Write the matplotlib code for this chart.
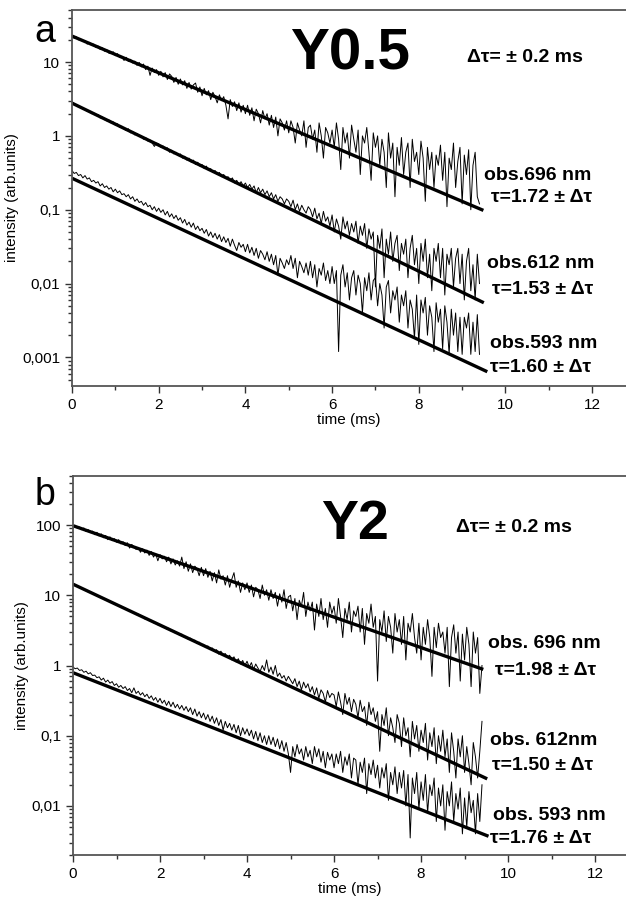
import numpy as np
import matplotlib
matplotlib.use("Agg")
import matplotlib.pyplot as plt
from matplotlib.ticker import LogLocator, FuncFormatter, MultipleLocator, NullFormatter

plt.rcParams['font.family'] = ['Liberation Sans', 'DejaVu Sans']

# time axis (ms), one sample every 0.05 ms
time_ms = np.round(np.arange(189) * 0.05, 2)

# ---- panel a : Y0.5 ----
a_696 = [23, 21, 22, 20, 20.5, 19, 19.5, 17.5, 18.5, 16.8,
         17.5, 15.8, 16.5, 14.8, 15.6, 14.0, 14.8, 13.2, 13.0, 13.8,
         12.2, 13.0, 11.5, 11.9, 10.5, 11.6, 10.2, 10.9, 9.7, 10.3,
         9.0, 9.9, 8.6, 9.4, 7.9, 8.8, 6.6, 8.3, 7.2, 7.9,
         6.6, 7.5, 6.3, 7.2, 5.8, 6.9, 6.4, 5.3, 6.2, 5.0,
         5.9, 4.9, 5.6, 4.4, 5.3, 4.3, 4.9, 5.2, 3.9, 4.6,
         3.5, 4.4, 3.6, 4.1, 3.1, 3.9, 3.4, 2.8, 3.6, 3.0,
         3.4, 2.6, 1.7, 3.1, 2.5, 2.9, 2.2, 2.8, 2.1, 2.6,
         2.0, 2.6, 1.9, 2.4, 1.6, 2.3, 2.0, 1.5, 2.2, 1.7,
         2.0, 1.4, 1.9, 1.3, 1.8, 1.0, 1.7, 1.5, 1.2, 1.6,
         1.1, 1.6, 1.3, 0.8, 1.5, 1.2, 1.0, 1.6, 0.7, 1.3,
         1.4, 0.9, 1.2, 0.6, 1.5, 1.0, 0.5, 1.3, 1.1, 0.8,
         1.2, 0.7, 1.5, 0.9, 0.35, 1.3, 0.8, 1.1, 0.5, 1.4,
         0.9, 0.6, 1.2, 0.3, 1.0, 0.8, 1.3, 0.6, 0.25, 1.1,
         0.7, 1.0, 0.4, 0.9, 0.6, 0.2, 1.1, 0.5, 0.8, 0.15,
         0.7, 0.4, 0.95, 0.3, 0.6, 0.8, 0.2, 0.9, 0.45, 0.6,
         0.3, 0.85, 0.5, 0.13, 0.7, 0.35, 0.6, 0.2, 0.55, 0.4,
         0.75, 0.25, 0.6, 0.11, 0.5, 0.35, 0.8, 0.2, 0.45, 0.7,
         0.12, 0.55, 0.3, 0.65, 0.1, 0.4, 0.6, 0.15, 0.12]
a_612 = [2.9, 2.7, 2.65, 2.45, 2.5, 2.3, 2.35, 2.15, 2.2, 2.0,
         2.05, 1.9, 1.95, 1.75, 1.8, 1.66, 1.6, 1.65, 1.5, 1.55,
         1.4, 1.46, 1.3, 1.35, 1.24, 1.18, 1.25, 1.1, 1.15, 1.03,
         1.08, 0.98, 1.0, 0.9, 0.95, 0.85, 0.88, 0.8, 0.72, 0.8,
         0.78, 0.7, 0.73, 0.66, 0.69, 0.6, 0.64, 0.57, 0.6, 0.54,
         0.57, 0.5, 0.53, 0.47, 0.5, 0.44, 0.47, 0.41, 0.44, 0.39,
         0.41, 0.36, 0.39, 0.34, 0.36, 0.32, 0.34, 0.3, 0.32, 0.28,
         0.3, 0.27, 0.28, 0.25, 0.27, 0.23, 0.25, 0.22, 0.24, 0.21,
         0.23, 0.2, 0.22, 0.19, 0.21, 0.17, 0.2, 0.17, 0.19, 0.16,
         0.18, 0.15, 0.17, 0.14, 0.16, 0.13, 0.15, 0.14, 0.12, 0.14,
         0.13, 0.11, 0.135, 0.1, 0.12, 0.095, 0.115, 0.1, 0.09, 0.11,
         0.1, 0.08, 0.105, 0.075, 0.09, 0.065, 0.095, 0.07, 0.08, 0.06,
         0.085, 0.05, 0.075, 0.06, 0.04, 0.08, 0.055, 0.07, 0.045, 0.065,
         0.05, 0.07, 0.035, 0.06, 0.045, 0.065, 0.03, 0.055, 0.04, 0.05,
         0.009, 0.045, 0.03, 0.055, 0.012, 0.04, 0.025, 0.05, 0.02, 0.035,
         0.045, 0.015, 0.035, 0.025, 0.04, 0.012, 0.03, 0.045, 0.018, 0.03,
         0.01, 0.035, 0.02, 0.04, 0.012, 0.025, 0.008, 0.03, 0.02, 0.035,
         0.012, 0.03, 0.007, 0.025, 0.018, 0.03, 0.009, 0.022, 0.03, 0.01,
         0.025, 0.006, 0.02, 0.03, 0.008, 0.018, 0.006, 0.025, 0.01]
a_593 = [0.34, 0.31, 0.32, 0.29, 0.3, 0.27, 0.29, 0.26, 0.27, 0.24,
         0.25, 0.23, 0.24, 0.21, 0.225, 0.2, 0.21, 0.19, 0.2, 0.175,
         0.19, 0.17, 0.18, 0.16, 0.165, 0.15, 0.16, 0.14, 0.15, 0.13,
         0.14, 0.125, 0.13, 0.115, 0.125, 0.11, 0.115, 0.1, 0.11, 0.095,
         0.105, 0.092, 0.1, 0.085, 0.095, 0.08, 0.088, 0.076, 0.084, 0.072,
         0.078, 0.066, 0.074, 0.062, 0.068, 0.058, 0.066, 0.054, 0.06, 0.052,
         0.056, 0.048, 0.054, 0.044, 0.05, 0.042, 0.048, 0.04, 0.046, 0.037,
         0.043, 0.036, 0.041, 0.032, 0.04, 0.033, 0.028, 0.036, 0.031, 0.034,
         0.027, 0.034, 0.026, 0.031, 0.024, 0.03, 0.022, 0.028, 0.025, 0.021,
         0.027, 0.02, 0.025, 0.018, 0.024, 0.013, 0.022, 0.019, 0.016, 0.021,
         0.018, 0.024, 0.016, 0.022, 0.012, 0.02, 0.017, 0.014, 0.019, 0.013,
         0.02, 0.012, 0.018, 0.009, 0.016, 0.013, 0.019, 0.011, 0.015, 0.01,
         0.017, 0.01, 0.015, 0.0012, 0.013, 0.018, 0.009, 0.014, 0.006, 0.012,
         0.015, 0.007, 0.013, 0.01, 0.004, 0.012, 0.008, 0.014, 0.006, 0.011,
         0.012, 0.005, 0.01, 0.007, 0.0025, 0.009, 0.011, 0.004, 0.008, 0.006,
         0.009, 0.003, 0.007, 0.005, 0.008, 0.0025, 0.006, 0.0045, 0.0018, 0.007,
         0.0015, 0.006, 0.004, 0.0065, 0.002, 0.005, 0.0035, 0.0012, 0.0055, 0.003,
         0.0045, 0.0013, 0.005, 0.003, 0.0011, 0.0045, 0.002, 0.004, 0.0012, 0.0035,
         0.0011, 0.0035, 0.0025, 0.004, 0.0011, 0.003, 0.0012, 0.0038, 0.0011]
# fitted lines: (start time, start value, end time, end value)
a_fits = [(0, 22.5, 9.49, 0.098), (0, 2.78, 9.5, 0.0055), (0, 0.267, 9.58, 0.00064)]
a_labels = [("obs.696 nm", "τ=1.72 ± Δτ"), ("obs.612 nm", "τ=1.53 ± Δτ"), ("obs.593 nm", "τ=1.60 ± Δτ")]

# ---- panel b : Y2 ----
b_696 = [95, 99, 90, 94, 86, 91, 81, 86, 78, 82,
         73, 79, 70, 75, 66, 71, 62, 68, 60, 64,
         57, 62, 54, 58, 51, 56, 47, 53, 49, 45,
         48, 41, 46, 40, 44, 37, 42, 35, 39, 31,
         38, 33, 36, 30, 35, 28, 33, 27, 31, 26,
         35, 24, 30, 22, 28, 21, 26, 24, 19, 25,
         19, 24, 18, 22, 16, 21, 15, 23, 17, 19,
         14, 19, 13, 17, 21, 13, 16, 11, 15, 12,
         15, 11, 14, 9.5, 13, 12, 9, 14, 10, 12,
         8.5, 12, 9, 11, 7, 10.5, 8, 12, 6.5, 9.5,
         10, 6, 9, 4.5, 8.5, 7, 11, 5, 8, 6,
         8, 3.2, 7.5, 5, 9, 4.5, 6.5, 3.5, 8, 5.5,
         7, 4, 9, 5, 2.5, 6.5, 4.5, 8, 3, 6,
         5, 7, 3, 6.5, 2, 5.5, 4, 7.5, 3.5, 5,
         0.6, 4.5, 3, 6, 2.2, 5, 3.5, 1.5, 5.5, 3,
         4.5, 2, 5, 1.2, 4, 3, 5.5, 2.5, 1.5, 4,
         1.2, 3.5, 2, 4.5, 2.5, 0.7, 3.5, 1.8, 4, 2.5,
         3, 1.5, 3.5, 0.5, 2.5, 3.8, 1.5, 3, 0.6, 2.8,
         1.2, 3.5, 2, 0.5, 3, 1.5, 2.5, 0.4, 1.0]
b_612 = [14.6, 13.8, 13.6, 12.8, 12.7, 12.0, 11.9, 11.2, 11.1, 10.5,
         10.4, 9.8, 9.7, 9.2, 9.1, 8.5, 8.5, 8.0, 7.9, 7.5,
         7.5, 7.0, 7.0, 6.5, 6.6, 6.1, 6.1, 5.7, 5.7, 5.3,
         5.4, 5.0, 5.0, 4.6, 4.7, 4.35, 4.4, 4.05, 4.1, 3.8,
         3.85, 3.55, 3.6, 3.3, 3.4, 3.1, 3.15, 2.9, 2.95, 2.7,
         2.8, 2.55, 2.6, 2.35, 2.45, 2.2, 2.3, 2.05, 2.15, 1.95,
         2.0, 1.8, 1.9, 1.7, 1.78, 1.58, 1.68, 1.45, 1.6, 1.4,
         1.48, 1.3, 1.4, 1.2, 1.33, 1.12, 1.25, 1.05, 1.18, 1.0,
         1.15, 0.95, 1.1, 0.88, 1.05, 0.92, 0.82, 1.0, 0.85, 1.2,
         0.8, 0.95, 0.75, 1.0, 0.7, 0.78, 0.66, 0.72, 0.6, 0.7,
         0.62, 0.55, 0.65, 0.5, 0.6, 0.45, 0.58, 0.48, 0.55, 0.42,
         0.5, 0.38, 0.48, 0.34, 0.45, 0.4, 0.3, 0.44, 0.35, 0.4,
         0.38, 0.26, 0.42, 0.3, 0.2, 0.4, 0.28, 0.35, 0.22, 0.33,
         0.28, 0.18, 0.32, 0.22, 0.26, 0.14, 0.3, 0.2, 0.25, 0.16,
         0.22, 0.06, 0.2, 0.14, 0.25, 0.1, 0.18, 0.13, 0.08, 0.2,
         0.15, 0.07, 0.18, 0.1, 0.13, 0.05, 0.16, 0.09, 0.14, 0.06,
         0.12, 0.08, 0.15, 0.045, 0.11, 0.07, 0.13, 0.04, 0.1, 0.06,
         0.12, 0.05, 0.09, 0.03, 0.11, 0.06, 0.025, 0.09, 0.05, 0.1,
         0.03, 0.07, 0.04, 0.02, 0.08, 0.05, 0.025, 0.06, 0.16]
b_593 = [0.95, 0.9, 0.92, 0.85, 0.87, 0.8, 0.83, 0.76, 0.79, 0.72,
         0.73, 0.67, 0.69, 0.62, 0.66, 0.58, 0.62, 0.56, 0.59, 0.52,
         0.55, 0.49, 0.52, 0.47, 0.5, 0.44, 0.47, 0.41, 0.48, 0.4,
         0.43, 0.38, 0.41, 0.36, 0.39, 0.34, 0.37, 0.32, 0.35, 0.3,
         0.34, 0.29, 0.32, 0.27, 0.31, 0.26, 0.3, 0.25, 0.28, 0.24,
         0.27, 0.23, 0.26, 0.22, 0.25, 0.2, 0.24, 0.19, 0.22, 0.18,
         0.21, 0.17, 0.2, 0.16, 0.19, 0.15, 0.18, 0.14, 0.17, 0.12,
         0.16, 0.13, 0.15, 0.12, 0.145, 0.11, 0.14, 0.1, 0.13, 0.105,
         0.125, 0.1, 0.12, 0.09, 0.115, 0.085, 0.11, 0.08, 0.1, 0.075,
         0.1, 0.075, 0.095, 0.07, 0.09, 0.065, 0.085, 0.06, 0.08, 0.055,
         0.03, 0.07, 0.05, 0.075, 0.055, 0.065, 0.045, 0.07, 0.05, 0.062,
         0.04, 0.07, 0.05, 0.065, 0.042, 0.06, 0.035, 0.058, 0.045, 0.055,
         0.035, 0.055, 0.04, 0.06, 0.03, 0.05, 0.038, 0.055, 0.025, 0.048,
         0.045, 0.02, 0.042, 0.03, 0.048, 0.015, 0.04, 0.028, 0.045, 0.025,
         0.038, 0.018, 0.035, 0.025, 0.04, 0.012, 0.03, 0.02, 0.036, 0.015,
         0.03, 0.018, 0.032, 0.01, 0.028, 0.0035, 0.025, 0.015, 0.03, 0.009,
         0.022, 0.012, 0.028, 0.008, 0.02, 0.014, 0.025, 0.006, 0.018, 0.01,
         0.02, 0.0045, 0.016, 0.01, 0.022, 0.006, 0.015, 0.009, 0.018, 0.004,
         0.013, 0.005, 0.016, 0.008, 0.012, 0.004, 0.015, 0.006, 0.02]
b_fits = [(0, 98, 9.43, 0.88), (0, 14.4, 9.52, 0.0243), (0, 0.79, 9.55, 0.0037)]
b_labels = [("obs. 696 nm", "τ=1.98 ± Δτ"), ("obs. 612nm", "τ=1.50 ± Δτ"), ("obs. 593 nm", "τ=1.76 ± Δτ")]


def comma_fmt(v, pos):
    return ("%g" % v).replace(".", ",")


def setup_axes(ax, ylim, xmax):
    ax.set_yscale("log")
    ax.set_ylim(*ylim)
    ax.set_xlim(0, xmax)
    ax.xaxis.set_major_locator(MultipleLocator(2))
    ax.xaxis.set_minor_locator(MultipleLocator(1))
    ax.yaxis.set_major_locator(LogLocator(base=10))
    ax.yaxis.set_minor_locator(LogLocator(base=10, subs=np.arange(2, 10)))
    ax.yaxis.set_major_formatter(FuncFormatter(comma_fmt))
    ax.yaxis.set_minor_formatter(NullFormatter())
    for s in ["left", "bottom", "top"]:
        ax.spines[s].set_color("#555555")
        ax.spines[s].set_linewidth(1.3)
    ax.spines["right"].set_visible(False)
    ax.tick_params(which="both", direction="out", color="#333333", labelsize=11, width=1)
    ax.tick_params(which="major", length=5)
    ax.tick_params(which="minor", length=3)
    ax.set_xlabel("time (ms)", fontsize=11, labelpad=1)
    ax.set_ylabel("intensity (arb.units)", fontsize=11, labelpad=2)


fig = plt.figure(figsize=(6.26, 8.97), dpi=100)
ax_a = fig.add_axes([72 / 626, 1 - 386 / 897, 554 / 626, 376 / 897])
ax_b = fig.add_axes([73 / 626, 1 - 855 / 897, 553 / 626, 379 / 897])

setup_axes(ax_a, (4.1e-4, 50.7), 12.78)
setup_axes(ax_b, (2.0e-3, 500), 12.71)

for ax, curves, fits in [(ax_a, [a_696, a_612, a_593], a_fits),
                         (ax_b, [b_696, b_612, b_593], b_fits)]:
    for c in curves:
        ax.plot(time_ms[:len(c)], c, color="black", lw=0.7)
    for t0, y0, t1, y1 in fits:
        ax.plot([t0, t1], [y0, y1], color="black", lw=2.4, solid_capstyle="butt")

# panel letters and titles (figure pixel coords)
def ftext(x, y, s, **kw):
    fig.text(x / 626, 1 - y / 897, s, **kw)

ftext(45, 32, "a", fontsize=27, ha="center", va="center")
ftext(350, 55, "Y0.5", fontsize=42, fontweight="bold", ha="center", va="center")
ftext(525, 58, "Δτ= ± 0.2 ms", fontsize=14, fontweight="bold", ha="center", va="center")
for (l1, l2), y1, y2, x1, x2 in zip(a_labels, [175, 263, 343], [198, 290, 368],
                                    [484, 487, 490], [491, 492, 490]):
    ftext(x1, y1, l1, fontsize=14, fontweight="bold", va="center")
    ftext(x2, y2, l2, fontsize=14, fontweight="bold", va="center")

ftext(45, 495, "b", fontsize=27, ha="center", va="center")
ftext(355, 525, "Y2", fontsize=40, fontweight="bold", ha="center", va="center")
ftext(514, 527, "Δτ= ± 0.2 ms", fontsize=14, fontweight="bold", ha="center", va="center")
for (l1, l2), y1, y2, x1, x2 in zip(b_labels, [643, 740, 815], [670, 765, 838],
                                    [488, 490, 493], [495, 492, 490]):
    ftext(x1, y1, l1, fontsize=14, fontweight="bold", va="center")
    ftext(x2, y2, l2, fontsize=14, fontweight="bold", va="center")

fig.savefig("out.png", dpi=100)
